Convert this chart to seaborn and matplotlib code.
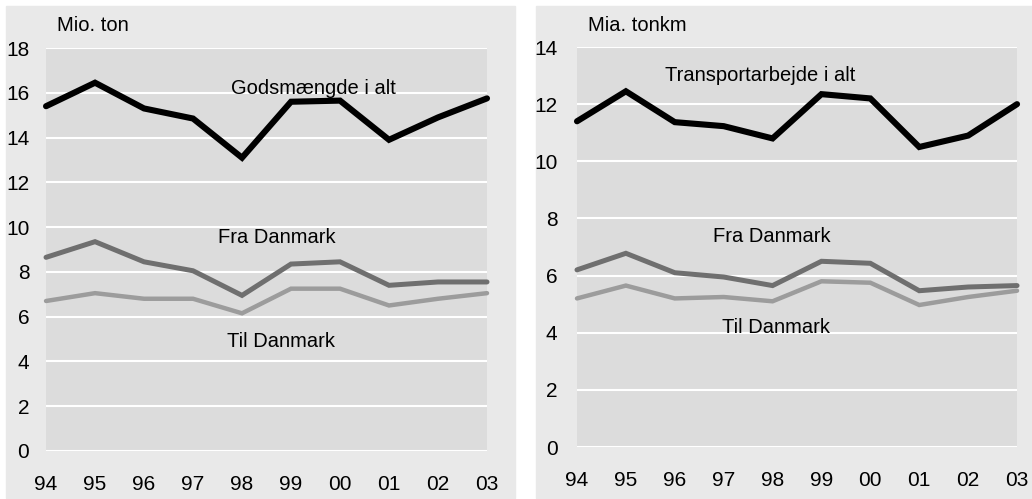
import numpy as np
import pandas as pd
import matplotlib
matplotlib.use('Agg')
import matplotlib.pyplot as plt
from matplotlib.patches import Rectangle
import seaborn as sns

sns.set_style('white')
plt.rcParams['font.family'] = ['Liberation Sans', 'DejaVu Sans']
plt.rcParams['text.color'] = 'black'
plt.rcParams['xtick.color'] = 'black'
plt.rcParams['ytick.color'] = 'black'

years = ['94', '95', '96', '97', '98', '99', '00', '01', '02', '03']

# left panel: goods volume, mio. ton
gods_total = [15.4, 16.45, 15.3, 14.85, 13.1, 15.6, 15.65, 13.9, 14.9, 15.75]
gods_fra = [8.65, 9.35, 8.45, 8.05, 6.95, 8.35, 8.45, 7.4, 7.55, 7.55]
gods_til = [6.7, 7.05, 6.8, 6.8, 6.15, 7.25, 7.25, 6.5, 6.8, 7.05]

# right panel: transport work, mia. tonkm
trans_total = [11.4, 12.45, 11.37, 11.23, 10.8, 12.35, 12.2, 10.5, 10.9, 12.0]
trans_fra = [6.2, 6.78, 6.1, 5.95, 5.65, 6.5, 6.43, 5.47, 5.6, 5.65]
trans_til = [5.2, 5.65, 5.2, 5.25, 5.1, 5.8, 5.75, 4.97, 5.25, 5.47]

fs = 15
outer = '#e9e9e9'
inner = '#dcdcdc'
colors = ['#000000', '#6f6f6f', '#9c9c9c']
widths = [4.4, 3.6, 3.2]

fig = plt.figure(figsize=(10.32, 4.99), dpi=100)
fig.patches.append(Rectangle((0.0058, 0.002), 0.4932, 0.986, color=outer,
                             transform=fig.transFigure, zorder=-5))
fig.patches.append(Rectangle((0.5194, 0.002), 0.4806, 0.986, color=outer,
                             transform=fig.transFigure, zorder=-5))

ax1 = fig.add_axes([0.0446, 0.0962, 0.4273, 0.8076])
ax2 = fig.add_axes([0.5591, 0.1042, 0.4264, 0.8016])

panels = [
    (ax1, [gods_total, gods_fra, gods_til], 18, 'Mio. ton',
     [('Godsmængde i alt', 5.45, 16.2), ('Fra Danmark', 4.72, 9.55),
      ('Til Danmark', 4.8, 4.87)], 12),
    (ax2, [trans_total, trans_fra, trans_til], 14, 'Mia. tonkm',
     [('Transportarbejde i alt', 3.74, 13.02), ('Fra Danmark', 3.99, 7.36),
      ('Til Danmark', 4.07, 4.18)], 14),
]

for ax, series, ymax, unit, labels, ypad in panels:
    ax.set_facecolor(inner)
    for vals, c, lw in zip(series, colors, widths):
        df = pd.DataFrame({'x': np.arange(len(years)), 'y': vals})
        sns.lineplot(data=df, x='x', y='y', ax=ax, color=c, linewidth=lw,
                     solid_joinstyle='miter', clip_on=False, zorder=3)
    ax.set_xlim(0, len(years) - 1)
    ax.set_ylim(0, ymax)
    ax.set_yticks(np.arange(0, ymax + 1, 2))
    ax.set_xticks(np.arange(len(years)))
    ax.set_xticklabels(years)
    ax.grid(axis='y', color='white', linewidth=1.5)
    ax.grid(axis='x', visible=False)
    ax.set_axisbelow(True)
    for s in ax.spines.values():
        s.set_visible(False)
    ax.tick_params(axis='y', length=0, pad=ypad, labelsize=fs)
    ax.tick_params(axis='x', length=0, pad=17, labelsize=fs)
    ax.set_xlabel('')
    ax.set_ylabel('')
    for txt, x, y in labels:
        ax.text(x, y, txt, ha='center', va='center', fontsize=fs - 0.5)
    ax.text(0.025, 1.055, unit, transform=ax.transAxes, ha='left',
            va='center', fontsize=fs - 0.5)

fig.savefig('out.png', dpi=100)
